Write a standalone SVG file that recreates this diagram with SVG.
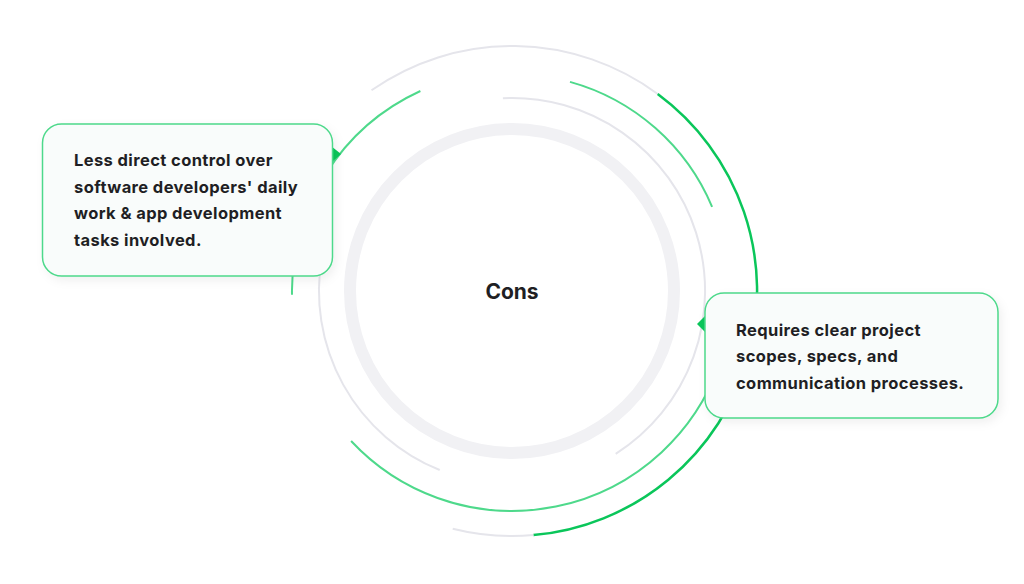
<svg xmlns="http://www.w3.org/2000/svg" width="1024" height="584" viewBox="0 0 1024 584">
  <defs>
    <filter id="shadow" x="-10%" y="-10%" width="125%" height="130%">
      <feDropShadow dx="3" dy="4" stdDeviation="5" flood-color="#000" flood-opacity="0.06"/>
    </filter>
    <style>
      .ring { fill: none; stroke: #f1f1f4; stroke-width: 12; }
      .gray { fill: none; stroke: #e5e5eb; stroke-width: 2; }
      .light { fill: none; stroke: #4ed98b; stroke-width: 2; }
      .strong { fill: none; stroke: #0ac65a; stroke-width: 2.5; }
      .box { fill: #f9fcfb; stroke: #4ed98b; stroke-width: 1.5; }
      .tail { fill: #0ac65a; }
      .txt { font-family: Inter, "Liberation Sans", sans-serif; font-weight: 700; font-size: 16.5px; letter-spacing: 0.4px; fill: #1f1f24; }
      .title { font-family: Inter, "Liberation Sans", sans-serif; font-weight: 700; font-size: 21px; fill: #1f1f24; }
    </style>
  </defs>
  <rect width="1024" height="584" fill="#ffffff"/>

  <g id="connectors">
    <circle class="ring" cx="512" cy="291" r="162"/>
    <!-- thin gray r=193 -->
    <path class="gray" d="M 502.9 98.2 A 193 193 0 0 1 615.7 453.8"/>
    <path class="gray" d="M 439.7 470.0 A 193 193 0 0 1 321.9 257.5"/>
    <!-- outer r=245 -->
    <path class="gray" d="M 371.5 90.3 A 245 245 0 0 1 657.7 94.0"/>
    <path class="strong" d="M 657.7 94.0 A 245 245 0 0 1 533.4 535.1"/>
    <path class="gray" d="M 533.4 535.1 A 245 245 0 0 1 452.7 528.7"/>
    <!-- light green r=217/220 -->
    <path class="light" d="M 570.0 81.9 A 217 217 0 0 1 712.1 206.9"/>
    <path class="light" d="M 292.0 294.8 A 220 220 0 0 1 420.4 91.0"/>
    <path class="light" d="M 718.7 366.2 A 220 220 0 0 1 351.1 441.0"/>
  </g>

  <g id="center">
    <text class="title" x="512" y="299" text-anchor="middle">Cons</text>
  </g>

  <g id="node-left">
    <polygon class="tail" points="331,146 331,163 341,154"/>
    <rect class="box" x="42.5" y="124" width="290" height="152" rx="19" filter="url(#shadow)"/>
    <text class="txt" x="74" y="166">Less direct control over</text>
    <text class="txt" x="74" y="193">software developers' daily</text>
    <text class="txt" x="74" y="219">work &amp; app development</text>
    <text class="txt" x="74" y="246">tasks involved.</text>
  </g>

  <g id="node-right">
    <polygon class="tail" points="706,315 706,333 697,324"/>
    <rect class="box" x="705" y="293" width="293" height="125" rx="19" filter="url(#shadow)"/>
    <text class="txt" x="736" y="336">Requires clear project</text>
    <text class="txt" x="736" y="362">scopes, specs, and</text>
    <text class="txt" x="736" y="389">communication processes.</text>
  </g>
</svg>
